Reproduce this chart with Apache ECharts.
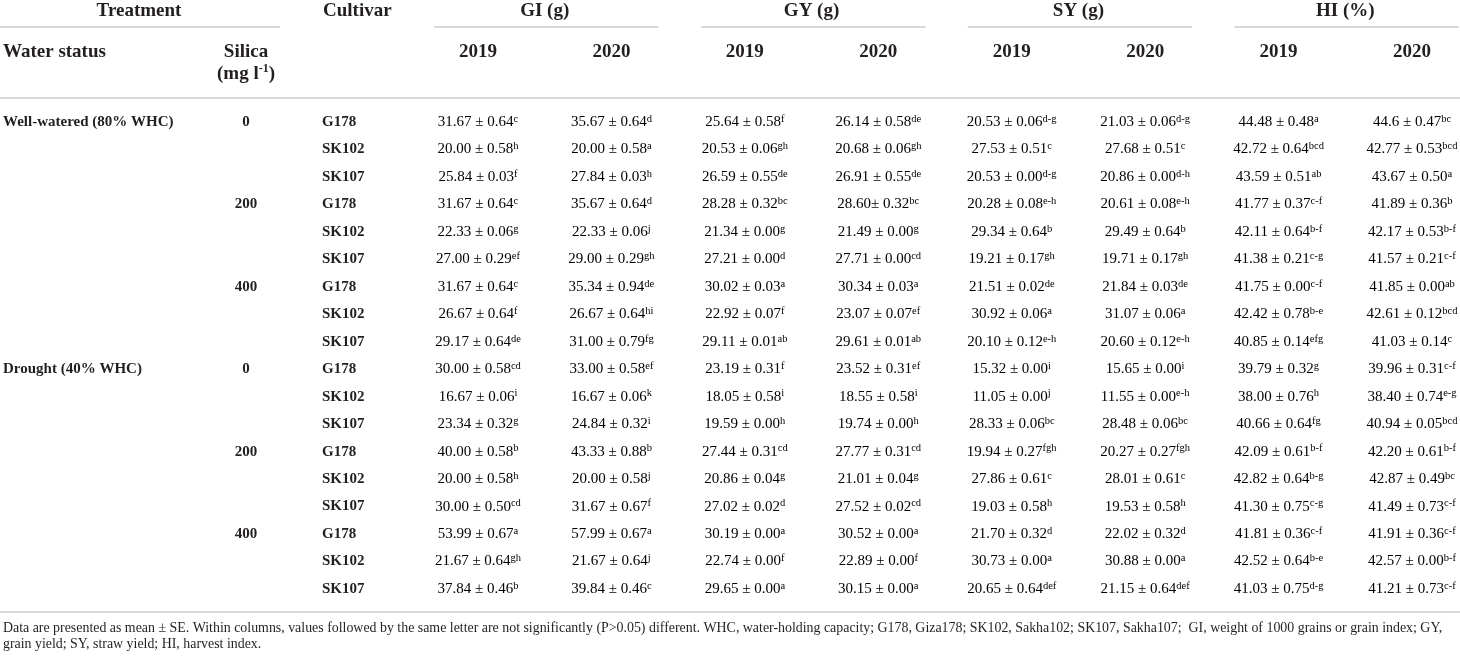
<!DOCTYPE html>
<html>
<head>
<meta charset="utf-8" />
<script src="https://cdn.jsdelivr.net/npm/echarts@6/dist/echarts.min.js"></script>
<style>
  html, body { margin: 0; padding: 0; background: #fff; }
  #main { width: 1460px; height: 656px; }
</style>
</head>
<body>
<div id="main"></div>
<script>
    var waterStatus = ['Well-watered (80% WHC)', 'Drought (40% WHC)'];
    var silicaLevels = ['0', '200', '400'];
    var cultivars = ['G178', 'SK102', 'SK107'];
    var traits = ['GI (g)', 'GY (g)', 'SY (g)', 'HI (%)'];
    var years = ['2019', '2020'];

    // mean ± SE, significance letters (rows: WW 0/200/400, then drought 0/200/400; G178, SK102, SK107)
    var gi2019 = [
        ['31.67 ± 0.64', 'c'], ['20.00 ± 0.58', 'h'], ['25.84 ± 0.03', 'f'],
        ['31.67 ± 0.64', 'c'], ['22.33 ± 0.06', 'g'], ['27.00 ± 0.29', 'ef'],
        ['31.67 ± 0.64', 'c'], ['26.67 ± 0.64', 'f'], ['29.17 ± 0.64', 'de'],
        ['30.00 ± 0.58', 'cd'], ['16.67 ± 0.06', 'i'], ['23.34 ± 0.32', 'g'],
        ['40.00 ± 0.58', 'b'], ['20.00 ± 0.58', 'h'], ['30.00 ± 0.50', 'cd'],
        ['53.99 ± 0.67', 'a'], ['21.67 ± 0.64', 'gh'], ['37.84 ± 0.46', 'b']
    ];
    var gi2020 = [
        ['35.67 ± 0.64', 'd'], ['20.00 ± 0.58', 'a'], ['27.84 ± 0.03', 'h'],
        ['35.67 ± 0.64', 'd'], ['22.33 ± 0.06', 'j'], ['29.00 ± 0.29', 'gh'],
        ['35.34 ± 0.94', 'de'], ['26.67 ± 0.64', 'hi'], ['31.00 ± 0.79', 'fg'],
        ['33.00 ± 0.58', 'ef'], ['16.67 ± 0.06', 'k'], ['24.84 ± 0.32', 'i'],
        ['43.33 ± 0.88', 'b'], ['20.00 ± 0.58', 'j'], ['31.67 ± 0.67', 'f'],
        ['57.99 ± 0.67', 'a'], ['21.67 ± 0.64', 'j'], ['39.84 ± 0.46', 'c']
    ];
    var gy2019 = [
        ['25.64 ± 0.58', 'f'], ['20.53 ± 0.06', 'gh'], ['26.59 ± 0.55', 'de'],
        ['28.28 ± 0.32', 'bc'], ['21.34 ± 0.00', 'g'], ['27.21 ± 0.00', 'd'],
        ['30.02 ± 0.03', 'a'], ['22.92 ± 0.07', 'f'], ['29.11 ± 0.01', 'ab'],
        ['23.19 ± 0.31', 'f'], ['18.05 ± 0.58', 'i'], ['19.59 ± 0.00', 'h'],
        ['27.44 ± 0.31', 'cd'], ['20.86 ± 0.04', 'g'], ['27.02 ± 0.02', 'd'],
        ['30.19 ± 0.00', 'a'], ['22.74 ± 0.00', 'f'], ['29.65 ± 0.00', 'a']
    ];
    var gy2020 = [
        ['26.14 ± 0.58', 'de'], ['20.68 ± 0.06', 'gh'], ['26.91 ± 0.55', 'de'],
        ['28.60± 0.32', 'bc'], ['21.49 ± 0.00', 'g'], ['27.71 ± 0.00', 'cd'],
        ['30.34 ± 0.03', 'a'], ['23.07 ± 0.07', 'ef'], ['29.61 ± 0.01', 'ab'],
        ['23.52 ± 0.31', 'ef'], ['18.55 ± 0.58', 'i'], ['19.74 ± 0.00', 'h'],
        ['27.77 ± 0.31', 'cd'], ['21.01 ± 0.04', 'g'], ['27.52 ± 0.02', 'cd'],
        ['30.52 ± 0.00', 'a'], ['22.89 ± 0.00', 'f'], ['30.15 ± 0.00', 'a']
    ];
    var sy2019 = [
        ['20.53 ± 0.06', 'd-g'], ['27.53 ± 0.51', 'c'], ['20.53 ± 0.00', 'd-g'],
        ['20.28 ± 0.08', 'e-h'], ['29.34 ± 0.64', 'b'], ['19.21 ± 0.17', 'gh'],
        ['21.51 ± 0.02', 'de'], ['30.92 ± 0.06', 'a'], ['20.10 ± 0.12', 'e-h'],
        ['15.32 ± 0.00', 'i'], ['11.05 ± 0.00', 'j'], ['28.33 ± 0.06', 'bc'],
        ['19.94 ± 0.27', 'fgh'], ['27.86 ± 0.61', 'c'], ['19.03 ± 0.58', 'h'],
        ['21.70 ± 0.32', 'd'], ['30.73 ± 0.00', 'a'], ['20.65 ± 0.64', 'def']
    ];
    var sy2020 = [
        ['21.03 ± 0.06', 'd-g'], ['27.68 ± 0.51', 'c'], ['20.86 ± 0.00', 'd-h'],
        ['20.61 ± 0.08', 'e-h'], ['29.49 ± 0.64', 'b'], ['19.71 ± 0.17', 'gh'],
        ['21.84 ± 0.03', 'de'], ['31.07 ± 0.06', 'a'], ['20.60 ± 0.12', 'e-h'],
        ['15.65 ± 0.00', 'i'], ['11.55 ± 0.00', 'e-h'], ['28.48 ± 0.06', 'bc'],
        ['20.27 ± 0.27', 'fgh'], ['28.01 ± 0.61', 'c'], ['19.53 ± 0.58', 'h'],
        ['22.02 ± 0.32', 'd'], ['30.88 ± 0.00', 'a'], ['21.15 ± 0.64', 'def']
    ];
    var hi2019 = [
        ['44.48 ± 0.48', 'a'], ['42.72 ± 0.64', 'bcd'], ['43.59 ± 0.51', 'ab'],
        ['41.77 ± 0.37', 'c-f'], ['42.11 ± 0.64', 'b-f'], ['41.38 ± 0.21', 'c-g'],
        ['41.75 ± 0.00', 'c-f'], ['42.42 ± 0.78', 'b-e'], ['40.85 ± 0.14', 'efg'],
        ['39.79 ± 0.32', 'g'], ['38.00 ± 0.76', 'h'], ['40.66 ± 0.64', 'fg'],
        ['42.09 ± 0.61', 'b-f'], ['42.82 ± 0.64', 'b-g'], ['41.30 ± 0.75', 'c-g'],
        ['41.81 ± 0.36', 'c-f'], ['42.52 ± 0.64', 'b-e'], ['41.03 ± 0.75', 'd-g']
    ];
    var hi2020 = [
        ['44.6 ± 0.47', 'bc'], ['42.77 ± 0.53', 'bcd'], ['43.67 ± 0.50', 'a'],
        ['41.89 ± 0.36', 'b'], ['42.17 ± 0.53', 'b-f'], ['41.57 ± 0.21', 'c-f'],
        ['41.85 ± 0.00', 'ab'], ['42.61 ± 0.12', 'bcd'], ['41.03 ± 0.14', 'c'],
        ['39.96 ± 0.31', 'c-f'], ['38.40 ± 0.74', 'e-g'], ['40.94 ± 0.05', 'bcd'],
        ['42.20 ± 0.61', 'b-f'], ['42.87 ± 0.49', 'bc'], ['41.49 ± 0.73', 'c-f'],
        ['41.91 ± 0.36', 'c-f'], ['42.57 ± 0.00', 'b-f'], ['41.21 ± 0.73', 'c-f']
    ];

    var footnote = [
        'Data are presented as mean \u00b1 SE. Within columns, values followed by the same letter are not significantly (P>0.05) different. WHC, water-holding capacity; G178, Giza178; SK102, Sakha102; SK107, Sakha107;  GI, weight of 1000 grains or grain index; GY,',
        'grain yield; SY, straw yield; HI, harvest index.'
    ];

    var columns = [gi2019, gi2020, gy2019, gy2020, sy2019, sy2020, hi2019, hi2020];

    var FONT = "'Liberation Serif', 'DejaVu Serif', serif";
    var INK = '#231f20';
    var RULE = '#cdcdcd';

    var colNames = [];
    traits.forEach(function(t) {
        years.forEach(function(y) { colNames.push(t + ' ' + y); });
    });

    var rowInfo = [];
    waterStatus.forEach(function(w) {
        silicaLevels.forEach(function(s) {
            cultivars.forEach(function(c) {
                rowInfo.push({ water: w, silica: s, cultivar: c });
            });
        });
    });
    var rowNames = rowInfo.map(function(r, i) { return String(i); });

    var cellData = [];
    var cellText = [];
    columns.forEach(function(col, ci) {
        col.forEach(function(v, ri) {
            cellData.push([ci, ri]);
            cellText.push(v);
        });
    });

    var chartDom = document.getElementById('main');
    var myChart = echarts.init(chartDom);

    var cellRich = {
        v: { fontFamily: FONT, fontSize: 15, color: INK, lineHeight: 17 },
        s: { fontFamily: FONT, fontSize: 10.5, color: INK, lineHeight: 10, verticalAlign: 'top' }
    };

    var option = {
        animation: false,
        backgroundColor: '#fff',
        grid: { left: 478, right: 48, top: 122, bottom: 67 },
        xAxis: {
            type: 'category', data: colNames, boundaryGap: false,
            show: false
        },
        yAxis: {
            type: 'category', data: rowNames, inverse: true, boundaryGap: false,
            show: false
        },
        series: [{
            // value cells
            type: 'custom',
            data: cellData,
            renderItem: function(params, api) {
                var pt = api.coord([api.value(0), api.value(1)]);
                var t = cellText[params.dataIndex];
                return {
                    type: 'text',
                    x: pt[0], y: pt[1],
                    style: {
                        text: '{v|' + t[0] + '}{s|' + t[1] + '}',
                        rich: cellRich,
                        align: 'center', verticalAlign: 'middle'
                    }
                };
            }
        }, {
            // treatment / cultivar labels
            type: 'custom',
            data: rowInfo.map(function(r, i) { return [0, i]; }),
            renderItem: function(params, api) {
                var i = params.dataIndex;
                var y = api.coord([0, api.value(1)])[1];
                var r = rowInfo[i];
                var kids = [{
                    type: 'text', x: 322, y: y,
                    style: { text: r.cultivar, font: 'bold 15px ' + FONT, fill: INK, verticalAlign: 'middle' }
                }];
                if (i % 3 === 0) kids.push({
                    type: 'text', x: 246, y: y,
                    style: { text: r.silica, font: 'bold 15px ' + FONT, fill: INK, align: 'center', verticalAlign: 'middle' }
                });
                if (i % 9 === 0) kids.push({
                    type: 'text', x: 3, y: y,
                    style: { text: r.water, font: 'bold 15px ' + FONT, fill: INK, verticalAlign: 'middle' }
                });
                return { type: 'group', children: kids };
            }
        }, {
            // trait headers with year sub-headers
            type: 'custom',
            data: traits.map(function(t, i) { return [2 * i, 0]; }),
            renderItem: function(params, api) {
                var i = params.dataIndex;
                var x1 = api.coord([2 * i, 0])[0];
                var x2 = api.coord([2 * i + 1, 0])[0];
                return {
                    type: 'group',
                    children: [{
                        type: 'text', x: (x1 + x2) / 2, y: 11,
                        style: { text: traits[i], font: 'bold 19px ' + FONT, fill: INK, align: 'center', verticalAlign: 'middle' }
                    }, {
                        type: 'line',
                        shape: { x1: x1 - 44, y1: 27, x2: Math.min(x2 + 47, 1460), y2: 27 },
                        style: { stroke: RULE, lineWidth: 1.5 }
                    }, {
                        type: 'text', x: x1, y: 52,
                        style: { text: years[0], font: 'bold 19px ' + FONT, fill: INK, align: 'center', verticalAlign: 'middle' }
                    }, {
                        type: 'text', x: x2, y: 52,
                        style: { text: years[1], font: 'bold 19px ' + FONT, fill: INK, align: 'center', verticalAlign: 'middle' }
                    }]
                };
            }
        }],
        graphic: [{
            type: 'text', x: 139, y: 11,
            style: { text: 'Treatment', font: 'bold 19px ' + FONT, fill: INK, align: 'center', verticalAlign: 'middle' }
        }, {
            type: 'line', shape: { x1: 0, y1: 27, x2: 280, y2: 27 },
            style: { stroke: RULE, lineWidth: 1.5 }
        }, {
            type: 'text', x: 323, y: 11,
            style: { text: 'Cultivar', font: 'bold 19px ' + FONT, fill: INK, verticalAlign: 'middle' }
        }, {
            type: 'text', x: 3, y: 52,
            style: { text: 'Water status', font: 'bold 19px ' + FONT, fill: INK, verticalAlign: 'middle' }
        }, {
            type: 'text', x: 246, y: 52,
            style: { text: 'Silica', font: 'bold 19px ' + FONT, fill: INK, align: 'center', verticalAlign: 'middle' }
        }, {
            type: 'text', x: 246, y: 74,
            style: {
                text: '{a|(mg l}{s|-1}{a|)}',
                align: 'center', verticalAlign: 'middle',
                rich: {
                    a: { font: 'bold 19px ' + FONT, fill: INK, lineHeight: 22 },
                    s: { font: 'bold 12px ' + FONT, fill: INK, lineHeight: 12, verticalAlign: 'top' }
                }
            }
        }, {
            type: 'line', shape: { x1: 0, y1: 98, x2: 1460, y2: 98 },
            style: { stroke: RULE, lineWidth: 1.5 }
        }, {
            type: 'line', shape: { x1: 0, y1: 612, x2: 1460, y2: 612 },
            style: { stroke: RULE, lineWidth: 1.5 }
        }, {
            type: 'text', x: 3, y: 628,
            style: { text: footnote[0], font: '13.9px ' + FONT, fill: INK, verticalAlign: 'middle' }
        }, {
            type: 'text', x: 3, y: 644,
            style: { text: footnote[1], font: '13.9px ' + FONT, fill: INK, verticalAlign: 'middle' }
        }]
    };

    myChart.setOption(option);
</script>
</body>
</html>
